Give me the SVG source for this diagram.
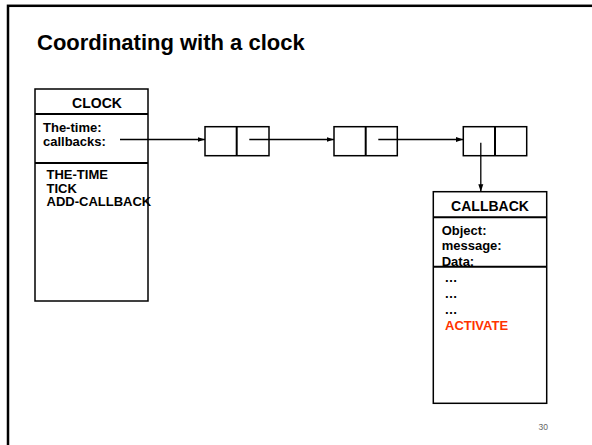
<svg xmlns="http://www.w3.org/2000/svg" width="592" height="445" viewBox="0 0 592 445">
  <style>
    text { font-family: "Liberation Sans", Arial, sans-serif; font-weight: bold; fill: #000; }
    .title { font-size: 22px; }
    .head { font-size: 14px; text-anchor: middle; }
    .item { font-size: 13px; }
    .hot { fill: #ff3300; }
    .page { font-size: 8.5px; font-weight: normal; fill: #666; text-anchor: end; }
    .box { fill: #fff; stroke: #000; stroke-width: 1.5; }
    .rule { stroke: #000; stroke-width: 2; fill: none; }
    .link { stroke: #000; stroke-width: 1.3; fill: none; marker-end: url(#arrow); }
  </style>
  <defs>
    <marker id="arrow" markerUnits="userSpaceOnUse" markerWidth="8" markerHeight="6" refX="7.5" refY="3" orient="auto">
      <path d="M0,0.5 L7.5,3 L0,5.5 z" fill="#000"/>
    </marker>
  </defs>

  <!-- slide frame -->
  <rect x="8" y="5.8" width="620" height="470" fill="none" stroke="#000" stroke-width="2.5"/>

  <text class="title" x="37" y="50">Coordinating with a clock</text>

  <!-- CLOCK object -->
  <g id="clock">
    <rect class="box" x="35" y="89" width="113" height="212"/>
    <line class="rule" x1="35" y1="114" x2="148" y2="114"/>
    <line class="rule" x1="35" y1="163" x2="148" y2="163"/>
    <text class="head" x="97" y="107.5">CLOCK</text>
    <text class="item" x="43" y="132">The-time:</text>
    <text class="item" x="43" y="146">callbacks:</text>
    <text class="item" x="46.5" y="179">THE-TIME</text>
    <text class="item" x="46.5" y="192.5">TICK</text>
    <text class="item" x="46.5" y="206">ADD-CALLBACK</text>
  </g>

  <!-- list cells -->
  <g id="cell1">
    <rect class="box" x="205" y="126.7" width="64" height="29"/>
    <line class="rule" x1="236.7" y1="126.7" x2="236.7" y2="155.7" stroke-width="2.5"/>
  </g>
  <g id="cell2">
    <rect class="box" x="334" y="126.7" width="63.3" height="29"/>
    <line class="rule" x1="365.7" y1="126.7" x2="365.7" y2="155.7" stroke-width="2.5"/>
  </g>
  <g id="cell3">
    <rect class="box" x="463.3" y="126.7" width="63.4" height="29"/>
    <line class="rule" x1="495" y1="126.7" x2="495" y2="155.7" stroke-width="2.5"/>
  </g>

  <!-- CALLBACK object -->
  <g id="callback">
    <rect class="box" x="433.3" y="191.7" width="113.4" height="211.6"/>
    <text class="head" x="490" y="211">CALLBACK</text>
    <text class="item" x="441.7" y="235">Object:</text>
    <text class="item" x="441.7" y="250">message:</text>
    <text class="item" x="441.7" y="265.5">Data:</text>
    <line class="rule" x1="433.3" y1="217.3" x2="546.7" y2="217.3"/>
    <line class="rule" x1="433.3" y1="266.7" x2="546.7" y2="266.7"/>
    <text class="item" x="444.5" y="282">…</text>
    <text class="item" x="444.5" y="298">…</text>
    <text class="item" x="444.5" y="313.5">…</text>
    <text class="item hot" x="445" y="330">ACTIVATE</text>
  </g>

  <!-- pointers -->
  <g id="connectors">
    <line class="link" x1="120" y1="139.5" x2="205" y2="139.5"/>
    <line class="link" x1="249.3" y1="139.5" x2="334" y2="139.5"/>
    <line class="link" x1="378.3" y1="139.5" x2="463.3" y2="139.5"/>
    <line class="link" x1="480.8" y1="142.7" x2="480.8" y2="191.7"/>
  </g>

  <text class="page" x="548" y="430">30</text>
</svg>
